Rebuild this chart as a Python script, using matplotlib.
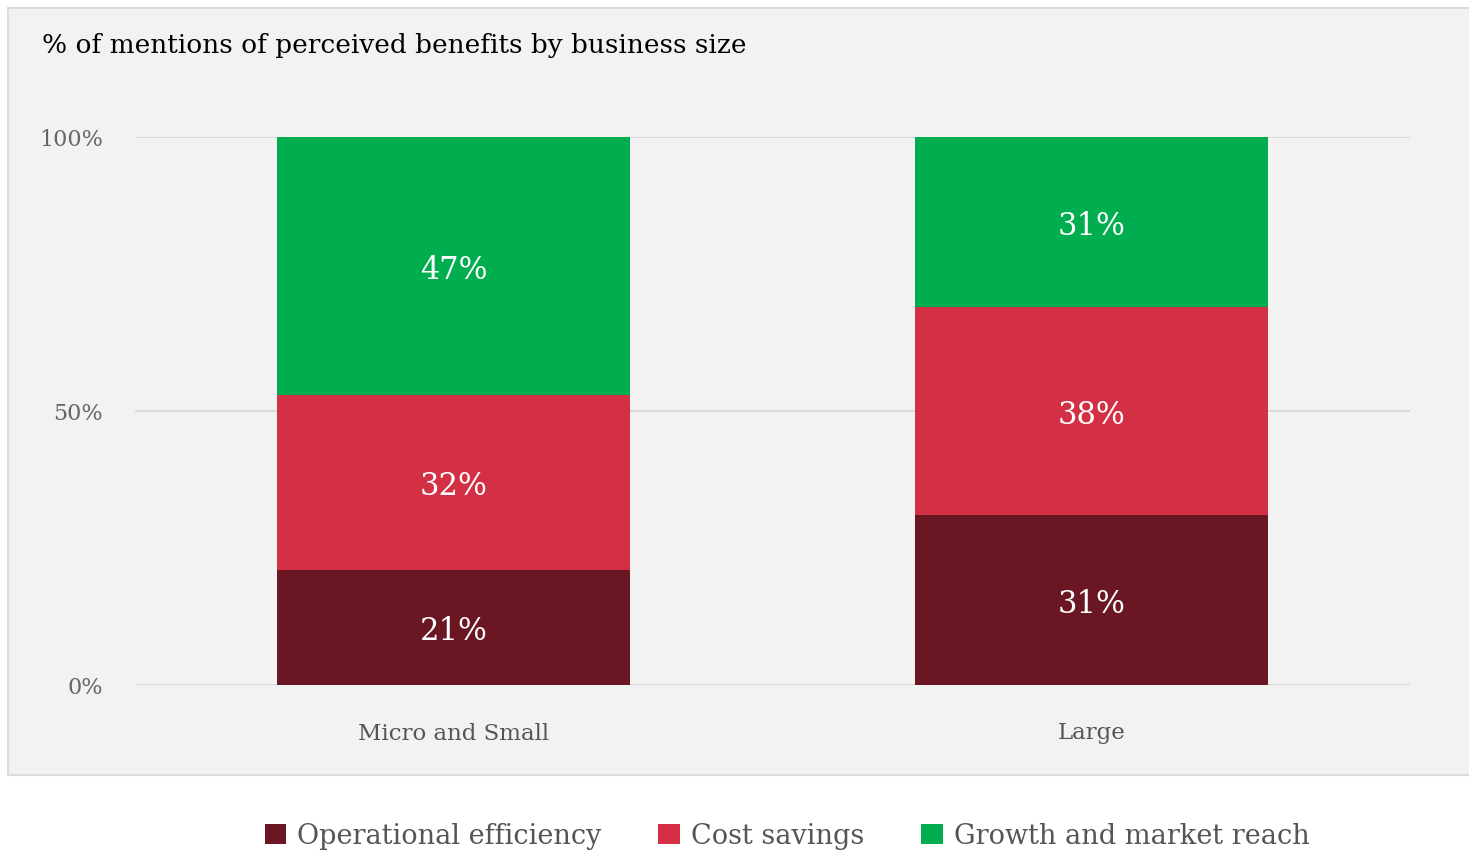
import matplotlib.pyplot as plt
from matplotlib.patches import Patch, Rectangle

# Share of mentions (%) per business size
sizes = ['Micro and Small', 'Large']
operational = [21, 31]
cost = [32, 38]
growth = [47, 31]

series_names = ['Operational efficiency', 'Cost savings', 'Growth and market reach']
colors = ['#6a1623', '#d33045', '#00ad4f']
y_ticks = [0, 50, 100]
y_tick_labels = ['0%', '50%', '100%']

FONT = 'DejaVu Serif'
plt.rcParams['font.family'] = FONT

fig = plt.figure(figsize=(14.69, 8.5), dpi=100)
fig.patch.set_facecolor('white')

# grey panel behind the plot
panel = Rectangle((8 / 1469, 75 / 850), 1.2, 767 / 850, transform=fig.transFigure,
                  facecolor='#f2f2f2', edgecolor='#dcdcdc', linewidth=1.5, zorder=-5)
fig.patches.append(panel)

ax = fig.add_axes([135 / 1469, 165 / 850, 1275 / 1469, 548 / 850])
ax.set_facecolor('none')

x = range(len(sizes))
width = 0.554
bottom = [0, 0]
for vals, col in zip([operational, cost, growth], colors):
    bars = ax.bar(x, vals, width, bottom=bottom, color=col, zorder=3)
    for i, b in enumerate(bars):
        ax.text(b.get_x() + b.get_width() / 2, bottom[i] + vals[i] / 2 - 0.8, f'{vals[i]}%',
                ha='center', va='center', color='white', fontsize=22, zorder=4)
    bottom = [bt + v for bt, v in zip(bottom, vals)]

ax.set_xlim(-0.5, 1.5)
ax.set_ylim(0, 100)
ax.set_yticks(y_ticks)
ax.set_yticklabels(y_tick_labels, color='#666666', fontsize=16)
ax.set_xticks(list(x))
ax.set_xticklabels(sizes, color='#555555', fontsize=16.5)
ax.tick_params(axis='y', length=0, pad=23)
ax.tick_params(axis='x', length=0, pad=27)
ax.grid(axis='y', color='#d9d9d9', linewidth=1.4, zorder=1)
for s in ax.spines.values():
    s.set_visible(False)

fig.text(42 / 1469, 1 - 46 / 850, '% of mentions of perceived benefits by business size',
         ha='left', va='center', fontsize=19, color='#000000')

handles = [Patch(facecolor=c, label=n) for c, n in zip(colors, series_names)]
leg = fig.legend(handles=handles, loc='center', bbox_to_anchor=(787 / 1469, 1 - 836 / 850),
                 ncol=3, frameon=False, fontsize=19.5, handlelength=0.8, handleheight=0.8,
                 handletextpad=0.4, columnspacing=2.1, labelcolor='#555555')

fig.savefig('out.png', dpi=100)
